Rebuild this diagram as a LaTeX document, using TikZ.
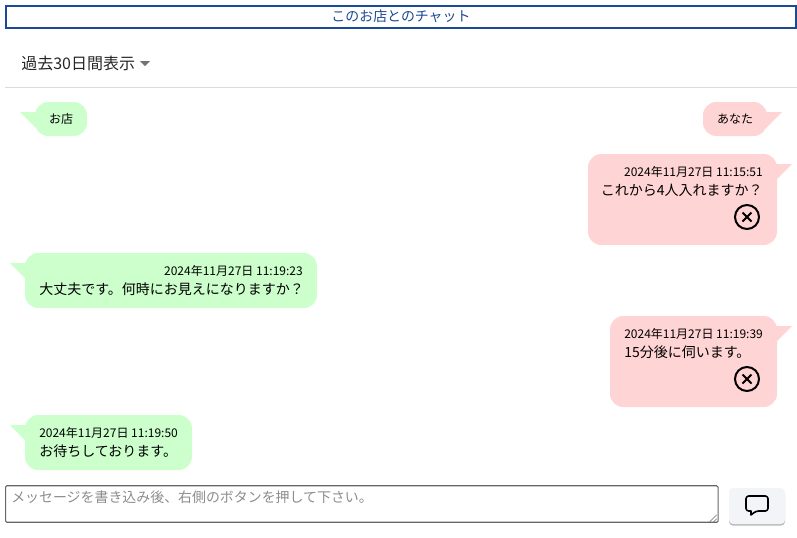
\documentclass[tikz,border=0pt]{standalone}
\usepackage{fontspec}
\setmainfont{Noto Sans CJK JP}
\usetikzlibrary{shadows}
\definecolor{shopgreen}{HTML}{CCFFCC}
\definecolor{youpink}{HTML}{FFD4D4}
\definecolor{headblue}{HTML}{1A4A96}
\definecolor{sendgray}{HTML}{F3F4F8}
\tikzset{
  bubble/.style={rounded corners=10pt,inner sep=0pt,outer sep=0pt},
  stamp/.style={inner sep=0pt,font=\fontsize{9}{11}\selectfont},
  msg/.style={inner sep=0pt,font=\fontsize{10.5}{12}\selectfont},
  cancelmark/.style={circle,draw,line width=1.5pt,minimum size=18pt,inner sep=0pt}
}
\begin{document}
\begin{tikzpicture}[x=0.75pt,y=-0.75pt]
  \useasboundingbox (0,0) rectangle (797,537);
  % header
  \node[draw=headblue,line width=1.5pt,minimum width=592.5pt,minimum height=16.5pt,inner sep=0pt,
    text=headblue,font=\fontsize{10.45}{12}\selectfont] (title) at (401,16.5) {このお店とのチャット};
  \node[anchor=west,inner sep=0pt,font=\fontsize{12}{14}\selectfont,text=black!85] (range) at (21,63) {過去30日間表示};
  \coordinate (ruleleft) at (5,87.5);
  \coordinate (ruleright) at (797,87.5);
  \draw[black!14] (ruleleft) -- (ruleright);
  \fill[black!55] (140,61) -- ++(10,0) -- ++(-5,5) -- cycle;
  % bubbles
  \node[bubble,fill=shopgreen,minimum width=39pt,minimum height=25.5pt] (shop) at (61,119) {};
  \node[bubble,fill=youpink,minimum width=48pt,minimum height=25.5pt] (you) at (735,119) {};
  \node[bubble,fill=youpink,minimum width=141.75pt,minimum height=68.25pt] (first) at (682.5,199.5) {};
  \node[bubble,fill=shopgreen,minimum width=219pt,minimum height=41.25pt] (second) at (171,280.5) {};
  \node[bubble,fill=youpink,minimum width=125.25pt,minimum height=68.25pt] (third) at (693.5,361.5) {};
  \node[bubble,fill=shopgreen,minimum width=125.25pt,minimum height=41.25pt] (fourth) at (108.5,442.5) {};
  % tails
  \fill[shopgreen] (shop.north west) ++(1,10) -- ++(-16,0) -- ++(16,16) -- cycle;
  \fill[youpink] (you.north east) ++(-1,10) -- ++(16,0) -- ++(-16,16) -- cycle;
  \fill[youpink] (first.north east) ++(-1,10) -- ++(16,0) -- ++(-16,16) -- cycle;
  \fill[shopgreen] (second.north west) ++(1,10) -- ++(-16,0) -- ++(16,16) -- cycle;
  \fill[youpink] (third.north east) ++(-1,10) -- ++(16,0) -- ++(-16,16) -- cycle;
  \fill[shopgreen] (fourth.north west) ++(1,10) -- ++(-16,0) -- ++(16,16) -- cycle;
  % texts
  \node[stamp] (shoplabel) at (61,119) {お店};
  \node[stamp] (youlabel) at (735,119) {あなた};
  \node[stamp,anchor=east] (firsttime) at (763,172) {2024年11月27日 11:15:51};
  \node[msg,anchor=east] (firstmsg) at (763,190) {これから4人入れますか？};
  \node[stamp,anchor=east] (secondtime) at (303,271) {2024年11月27日 11:19:23};
  \node[msg,anchor=west] (secondmsg) at (39,289) {大丈夫です。何時にお見えになりますか？};
  \node[stamp,anchor=west] (thirdtime) at (624,334) {2024年11月27日 11:19:39};
  \node[msg,anchor=west] (thirdmsg) at (624,352) {15分後に伺います。};
  \node[stamp,anchor=west] (fourthtime) at (39,433) {2024年11月27日 11:19:50};
  \node[msg,anchor=west] (fourthmsg) at (39,451) {お待ちしております。};
  % cancel buttons
  \node[cancelmark] (cancelone) at (747,217) {};
  \node[cancelmark] (canceltwo) at (747,379) {};
  \foreach \n in {cancelone,canceltwo} {
    \draw[line width=1.4pt] (\n.center) ++(-4.5,-4.5) -- ++(9,9);
    \draw[line width=1.4pt] (\n.center) ++(4.5,-4.5) -- ++(-9,9);
  }
  % input
  \node[draw=black!60,line width=0.8pt,rounded corners=1pt,minimum width=534.4pt,minimum height=27.4pt,inner sep=0pt] (input) at (361.8,504) {};
  \node[anchor=west,inner sep=0pt,text=black!45,font=\fontsize{10.45}{12}\selectfont] (hint) at (11,497) {メッセージを書き込み後、右側のボタンを押して下さい。};
  \draw[black!60,line width=0.4pt] (input.south east) ++(-9,-1) -- ++(7,-7);
  \draw[black!60,line width=0.4pt] (input.south east) ++(-5,-1) -- ++(3,-3);
  \node[fill=sendgray,rounded corners=3pt,minimum width=42pt,minimum height=27pt,inner sep=0pt,
    drop shadow={shadow xshift=0pt,shadow yshift=-1.2pt,opacity=.55}] (send) at (757,506) {};
  \draw[line width=1.2pt,line join=round,rounded corners=2pt] (746,496) -- (768,496) -- (768,511) -- (756,511)
    [sharp corners] -- (751,515) -- (751,511) [rounded corners=2pt] -- (746,511) -- cycle;
\end{tikzpicture}
\end{document}
